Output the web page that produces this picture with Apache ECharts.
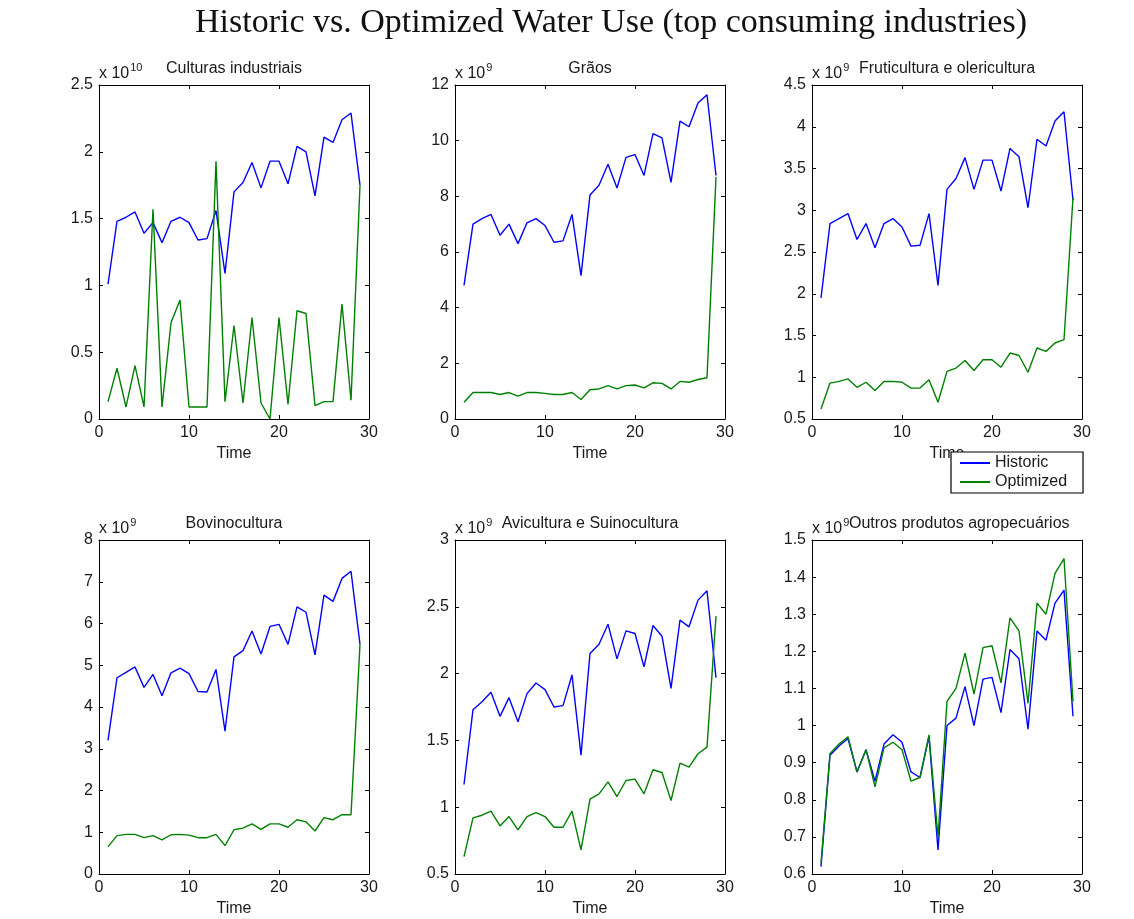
<!DOCTYPE html>
<html>
<head>
<meta charset="utf-8">
<script src="https://cdn.jsdelivr.net/npm/echarts@6/dist/echarts.min.js"></script>
<style>
  html, body { margin: 0; padding: 0; background: #fff; }
  #chart { width: 1134px; height: 919px; }
</style>
</head>
<body>
<div id="chart"></div>
<script>
// Time steps shared by every panel
const time = [1,2,3,4,5,6,7,8,9,10,11,12,13,14,15,16,17,18,19,20,21,22,23,24,25,26,27,28,29];

// Panel titles and their axis exponents
const panelTitles = ['Culturas industriais', 'Grãos', 'Fruticultura e olericultura',
                     'Bovinocultura', 'Avicultura e Suinocultura', 'Outros produtos agropecuários'];
const panelExponents = ['10', '9', '9', '9', '9', '9'];

// Y axis ranges (in units of the exponent) and tick steps
const yMins = [0, 0, 0.5, 0, 0.5, 0.6];
const yMaxs = [2.5, 12, 4.5, 8, 3, 1.5];
const ySteps = [0.5, 2, 0.5, 1, 0.5, 0.1];

// Culturas industriais (x 10^10)
const culturasHistoric  = [1.01,1.48,1.51,1.55,1.39,1.47,1.32,1.48,1.51,1.47,1.34,1.35,1.56,1.09,1.70,1.77,1.92,1.73,1.93,1.93,1.76,2.04,2.00,1.67,2.11,2.07,2.24,2.29,1.75];
const culturasOptimized = [0.13,0.38,0.09,0.40,0.09,1.57,0.09,0.72,0.89,0.09,0.09,0.09,1.93,0.13,0.70,0.12,0.76,0.12,0.00,0.76,0.11,0.81,0.79,0.10,0.13,0.13,0.86,0.14,1.75];

// Grãos (x 10^9)
const graosHistoric  = [4.80,7.00,7.20,7.35,6.60,7.00,6.30,7.05,7.20,6.95,6.35,6.40,7.35,5.15,8.05,8.40,9.15,8.30,9.40,9.50,8.75,10.25,10.10,8.50,10.70,10.50,11.35,11.65,8.75];
const graosOptimized = [0.60,0.95,0.95,0.95,0.88,0.95,0.82,0.95,0.95,0.92,0.88,0.88,0.95,0.70,1.05,1.08,1.20,1.08,1.20,1.22,1.12,1.30,1.28,1.08,1.35,1.32,1.42,1.48,8.70];

// Fruticultura e olericultura (x 10^9)
const frutiHistoric  = [1.95,2.84,2.90,2.96,2.65,2.84,2.55,2.84,2.90,2.80,2.57,2.58,2.96,2.10,3.25,3.38,3.63,3.25,3.60,3.60,3.23,3.74,3.64,3.03,3.85,3.77,4.07,4.18,3.12];
const frutiOptimized = [0.62,0.93,0.95,0.98,0.88,0.94,0.84,0.95,0.95,0.94,0.87,0.87,0.97,0.70,1.07,1.11,1.20,1.08,1.21,1.21,1.12,1.29,1.26,1.06,1.35,1.31,1.41,1.45,3.15];

// Bovinocultura (x 10^9)
const bovinoHistoric  = [3.20,4.70,4.83,4.96,4.47,4.78,4.27,4.82,4.93,4.80,4.37,4.36,4.90,3.42,5.20,5.35,5.82,5.27,5.93,5.98,5.50,6.40,6.27,5.25,6.68,6.53,7.08,7.25,5.50];
const bovinoOptimized = [0.65,0.92,0.95,0.95,0.87,0.92,0.82,0.94,0.95,0.93,0.87,0.87,0.95,0.68,1.06,1.10,1.20,1.07,1.20,1.20,1.12,1.30,1.25,1.03,1.35,1.30,1.42,1.42,5.50];

// Avicultura e Suinocultura (x 10^9)
const aviHistoric  = [1.17,1.73,1.79,1.86,1.68,1.82,1.64,1.85,1.93,1.88,1.75,1.76,1.99,1.39,2.15,2.22,2.37,2.11,2.32,2.30,2.05,2.36,2.28,1.89,2.40,2.35,2.55,2.62,1.97];
const aviOptimized = [0.63,0.92,0.94,0.97,0.86,0.93,0.83,0.93,0.96,0.93,0.85,0.85,0.97,0.68,1.06,1.10,1.19,1.08,1.20,1.21,1.10,1.28,1.26,1.05,1.33,1.30,1.40,1.45,2.43];

// Outros produtos agropecuários (x 10^9)
const outrosHistoric  = [0.62,0.92,0.945,0.965,0.875,0.935,0.85,0.95,0.975,0.955,0.875,0.86,0.97,0.665,1.00,1.02,1.105,1.00,1.125,1.13,1.035,1.205,1.18,0.99,1.255,1.23,1.33,1.365,1.025];
const outrosOptimized = [0.63,0.925,0.95,0.97,0.875,0.935,0.835,0.94,0.955,0.935,0.85,0.86,0.975,0.70,1.065,1.10,1.195,1.085,1.21,1.215,1.115,1.29,1.255,1.06,1.33,1.30,1.41,1.45,1.065];

const historicSets  = [culturasHistoric, graosHistoric, frutiHistoric, bovinoHistoric, aviHistoric, outrosHistoric];
const optimizedSets = [culturasOptimized, graosOptimized, frutiOptimized, bovinoOptimized, aviOptimized, outrosOptimized];

// Layout of the 2 x 3 panel grid
const gridLefts = [99, 455, 812];
const gridTops = [85, 540];
const gridW = 270, gridH = 334;

const FONT = '"Liberation Sans", Arial, sans-serif';
const TXT = '#1a1a1a';
const HIST_COLOR = '#0000ff';
const OPT_COLOR = '#008000';

const fmt = v => String(parseFloat(Number(v).toFixed(3)));

const grids = [], xAxes = [], yAxes = [], series = [];
const titles = [{
  text: 'Historic vs. Optimized Water Use (top consuming industries)',
  left: 611, top: 6, textAlign: 'center', padding: 0,
  textStyle: { fontFamily: '"Liberation Serif", "Times New Roman", serif', fontSize: 34, fontWeight: 'normal', color: '#111' }
}];

for (let p = 0; p < 6; p++) {
  const col = p % 3, row = Math.floor(p / 3);
  grids.push({ left: gridLefts[col], top: gridTops[row], width: gridW, height: gridH, containLabel: false });

  // bottom axis with labels, top axis mirrors ticks to close the box
  xAxes.push({
    type: 'value', gridIndex: p, position: 'bottom', min: 0, max: 30, interval: 10,
    name: 'Time', nameLocation: 'middle', nameGap: 27,
    nameTextStyle: { fontFamily: FONT, fontSize: 16, color: TXT },
    axisLine: { show: true, onZero: false, lineStyle: { color: '#000', width: 1 } },
    axisTick: { show: true, inside: true, length: 4, lineStyle: { color: '#000' } },
    axisLabel: { fontFamily: FONT, fontSize: 16, color: TXT, margin: 6, formatter: fmt },
    splitLine: { show: false }
  });
  xAxes.push({
    type: 'value', gridIndex: p, position: 'top', min: 0, max: 30, interval: 10,
    axisLine: { show: true, onZero: false, lineStyle: { color: '#000', width: 1 } },
    axisTick: { show: true, inside: true, length: 4, lineStyle: { color: '#000' } },
    axisLabel: { show: false }, splitLine: { show: false }
  });

  yAxes.push({
    type: 'value', gridIndex: p, position: 'left', min: yMins[p], max: yMaxs[p], interval: ySteps[p],
    name: '{x|x 10}{sup|' + panelExponents[p] + '}',
    nameLocation: 'end', nameGap: 3,
    nameTextStyle: {
      align: 'left', verticalAlign: 'bottom',
      rich: {
        x: { fontFamily: FONT, fontSize: 16, color: TXT, verticalAlign: 'bottom', lineHeight: 18 },
        sup: { fontFamily: FONT, fontSize: 11, color: TXT, verticalAlign: 'bottom', padding: [0, 0, 9, 1], lineHeight: 12 }
      }
    },
    axisLine: { show: true, onZero: false, lineStyle: { color: '#000', width: 1 } },
    axisTick: { show: true, inside: true, length: 4, lineStyle: { color: '#000' } },
    axisLabel: { fontFamily: FONT, fontSize: 16, color: TXT, margin: 6, formatter: fmt },
    splitLine: { show: false }
  });
  yAxes.push({
    type: 'value', gridIndex: p, position: 'right', min: yMins[p], max: yMaxs[p], interval: ySteps[p],
    axisLine: { show: true, onZero: false, lineStyle: { color: '#000', width: 1 } },
    axisTick: { show: true, inside: true, length: 4, lineStyle: { color: '#000' } },
    axisLabel: { show: false }, splitLine: { show: false }
  });

  const titleX = gridLefts[col] + gridW / 2;
  titles.push(p === 5 ? {
    text: panelTitles[p], left: 849, top: gridTops[row] - 24, padding: 0,
    textStyle: { fontFamily: FONT, fontSize: 16, fontWeight: 'normal', color: TXT }
  } : {
    text: panelTitles[p], left: titleX, top: gridTops[row] - 24, textAlign: 'center', padding: 0,
    textStyle: { fontFamily: FONT, fontSize: 16, fontWeight: 'normal', color: TXT }
  });

  const mk = arr => time.map((t, i) => [t, arr[i]]);
  series.push({
    name: 'Historic', type: 'line', xAxisIndex: 2 * p, yAxisIndex: 2 * p,
    data: mk(historicSets[p]), showSymbol: false, symbol: 'none', color: HIST_COLOR,
    lineStyle: { color: HIST_COLOR, width: 1.4 }, animation: false
  });
  series.push({
    name: 'Optimized', type: 'line', xAxisIndex: 2 * p, yAxisIndex: 2 * p,
    data: mk(optimizedSets[p]), showSymbol: false, symbol: 'none', color: OPT_COLOR,
    lineStyle: { color: OPT_COLOR, width: 1.4 }, animation: false
  });
}

const chart = echarts.init(document.getElementById('chart'), null, { renderer: 'canvas' });
chart.setOption({
  backgroundColor: '#fff',
  animation: false,
  title: titles,
  grid: grids,
  xAxis: xAxes,
  yAxis: yAxes,
  legend: {
    data: ['Historic', 'Optimized'],
    orient: 'vertical', left: 951, top: 452, z: 10,
    backgroundColor: '#fff', borderColor: '#000', borderWidth: 1.2,
    padding: [3, 16, 3, 9], itemGap: 3,
    icon: 'rect', itemWidth: 30, itemHeight: 2,
    textStyle: { fontFamily: FONT, fontSize: 16, color: TXT, padding: [0, 0, 0, 0] }
  },
  series: series
});
</script>
</body>
</html>
